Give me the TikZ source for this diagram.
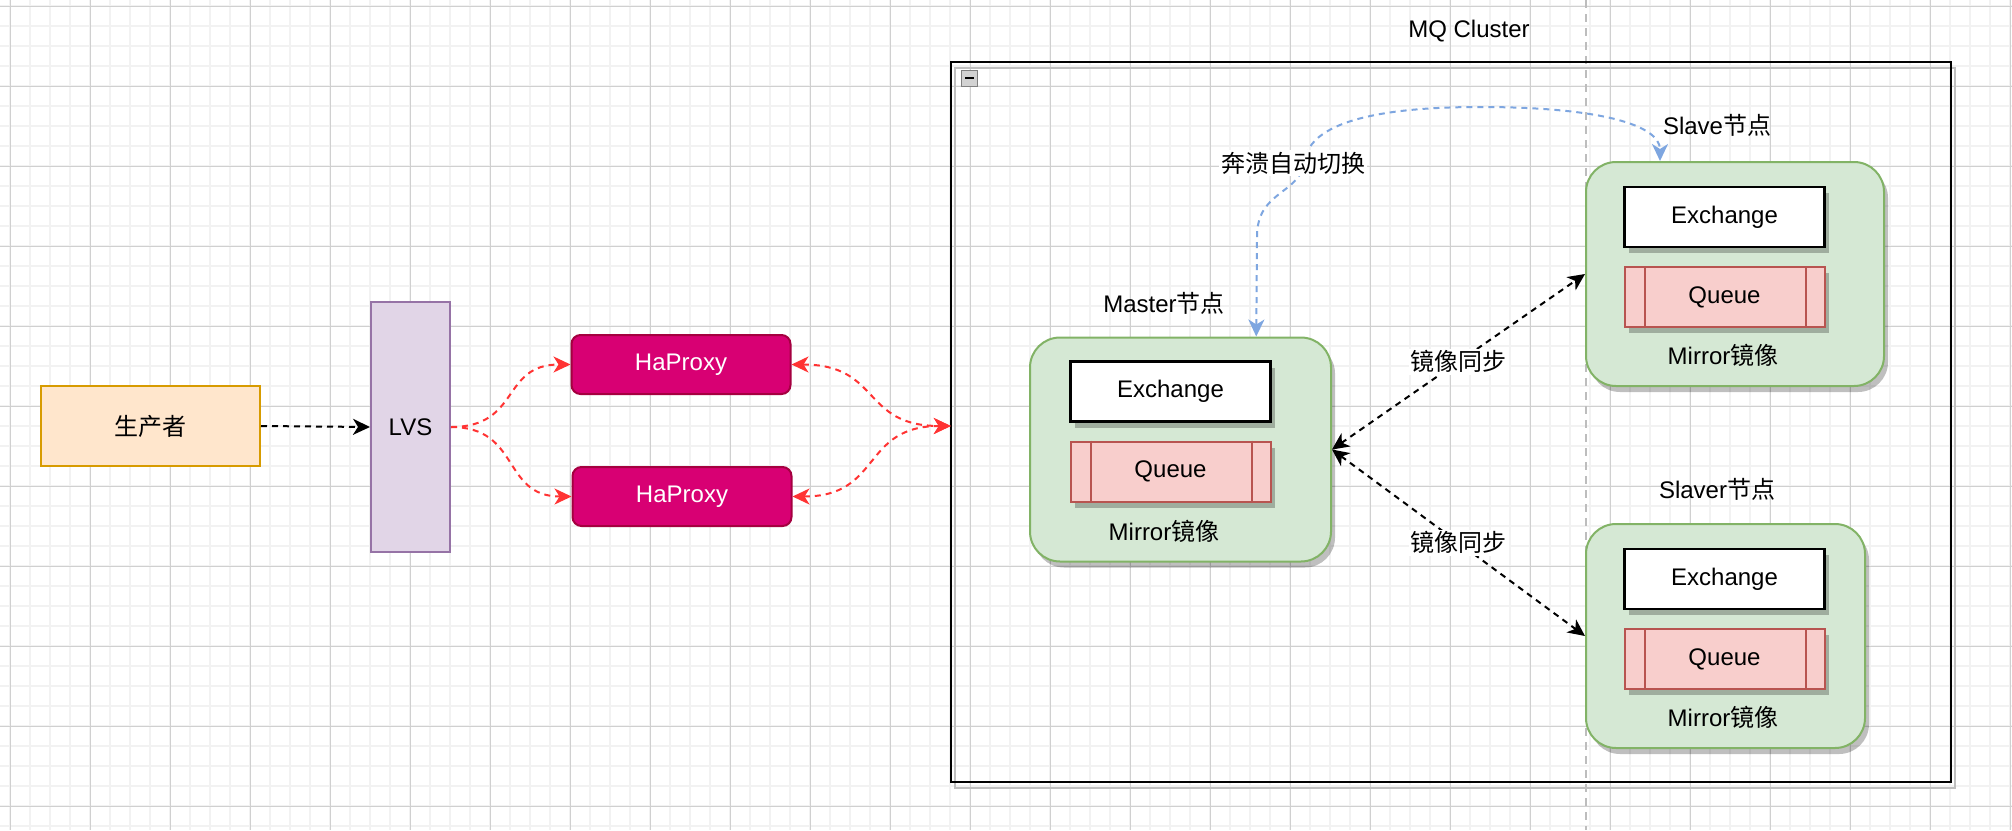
\documentclass[tikz,border=0pt]{standalone}
\usepackage{fontspec}
\setmainfont{Liberation Sans}
\newfontfamily\cjk{Noto Sans CJK SC}
\usetikzlibrary{arrows.meta,shadows,calc}
\definecolor{gridminor}{HTML}{F2F2F2}
\definecolor{gridmajor}{HTML}{D0D0D0}
\definecolor{prodfill}{HTML}{FFE6CC}
\definecolor{prodline}{HTML}{D79B00}
\definecolor{lvsfill}{HTML}{E1D5E7}
\definecolor{lvsline}{HTML}{9673A6}
\definecolor{hapfill}{HTML}{D80073}
\definecolor{hapline}{HTML}{A50040}
\definecolor{nodefill}{HTML}{D5E8D4}
\definecolor{nodeline}{HTML}{82B366}
\definecolor{qfill}{HTML}{F8CECC}
\definecolor{qline}{HTML}{B85450}
\definecolor{redarrow}{HTML}{FF3333}
\definecolor{bluearrow}{HTML}{7EA6E0}
\definecolor{guide}{HTML}{BDBDBD}
\definecolor{clshadow}{HTML}{BFBFBF}
\begin{document}
\begin{tikzpicture}[x=1pt,y=-1pt,
  txt/.style={font=\fontsize{24}{28}\selectfont, inner sep=0pt, text=black},
  sh/.style={drop shadow={shadow xshift=4pt,shadow yshift=-6pt,opacity=0.25,fill=black}},
  prodbox/.style={txt, draw=prodline, fill=prodfill, line width=2pt, minimum width=219pt, minimum height=80pt},
  lvsbox/.style={txt, draw=lvsline, fill=lvsfill, line width=2pt, minimum width=79pt, minimum height=250pt},
  hapbox/.style={txt, text=white, draw=hapline, fill=hapfill, line width=2pt, rounded corners=9pt, minimum width=219pt, minimum height=59pt},
  mqnode/.style={sh, draw=nodeline, fill=nodefill, line width=2pt, rounded corners=30pt, minimum height=224pt},
  exbox/.style={txt, sh, draw=black, fill=white, line width=2.2pt, minimum width=200pt, minimum height=60pt},
  qbox/.style={txt, sh, draw=qline, fill=qfill, line width=2pt, minimum width=200pt, minimum height=60pt},
  qbar/.style={draw=qline, line width=2pt},
  blkarr/.style={draw=black, line width=2pt, dash pattern=on 6pt off 5pt, -{Stealth[length=17pt,width=16pt,inset=5pt]}},
  blkdbl/.style={draw=black, line width=2pt, dash pattern=on 6pt off 5pt, {Stealth[length=17pt,width=16pt,inset=5pt]}-{Stealth[length=17pt,width=16pt,inset=5pt]}},
  redarr/.style={draw=redarrow, line width=2pt, dash pattern=on 6pt off 5pt, -{Stealth[length=17pt,width=16pt,inset=5pt]}},
  reddbl/.style={draw=redarrow, line width=2pt, dash pattern=on 6pt off 5pt, {Stealth[length=17pt,width=16pt,inset=5pt]}-{Stealth[length=17pt,width=16pt,inset=5pt]}},
  bluedbl/.style={draw=bluearrow, line width=2pt, dash pattern=on 6pt off 5pt, {Stealth[length=17pt,width=16pt,inset=5pt]}-{Stealth[length=17pt,width=16pt,inset=5pt]}},
  edgelabel/.style={txt, fill=white, inner sep=2pt}
]
\useasboundingbox (0,0) rectangle (2012,830);
\fill[white] (0,0) rectangle (2012,830);
% grid
\foreach \x in {10,30,...,2010} \draw[gridminor, line width=1.5pt] (\x,0) -- (\x,830);
\foreach \y in {6,26,...,826} \draw[gridminor, line width=1.5pt] (0,\y) -- (2012,\y);
\foreach \x in {10,90,...,2010} \draw[gridmajor, line width=1pt] (\x,0) -- (\x,830);
\foreach \y in {6,86,...,806} \draw[gridmajor, line width=1pt] (0,\y) -- (2012,\y);
% guide line
\draw[guide, line width=1.5pt, dash pattern=on 8pt off 6pt] (1586,0) -- (1586,830);

% cluster container
\node[minimum width=1000pt, minimum height=720pt, inner sep=0pt] (cluster) at (1451,422) {};
\draw[clshadow, line width=2.5pt] ($(cluster.north west)+(4,6)$) rectangle ($(cluster.south east)+(4,6)$);
\draw[black, line width=2.5pt] (cluster.north west) rectangle (cluster.south east);
\node[txt] (mqlabel) at (1469,31) {MQ Cluster};
\node[draw=gray, fill=gray!35, line width=1pt, minimum size=16pt, inner sep=0pt] (collapse) at (969.5,78) {};
\draw[black, line width=2pt] ($(collapse.west)+(4,0)$) -- ($(collapse.east)+(-4,0)$);

% left side
\node[prodbox] (prod) at (150.5,426) {{\cjk 生产者}};
\node[lvsbox] (lvs) at (410.5,427) {LVS};
\node[hapbox] (hap1) at (681,364.5) {HaProxy};
\node[hapbox] (hap2) at (682,496.5) {HaProxy};

% MQ nodes
\node[mqnode, minimum width=301pt] (master) at (1180.5,449.5) {};
\node[mqnode, minimum width=298pt] (slave) at (1735,274) {};
\node[mqnode, minimum width=279pt] (slaver) at (1725.5,636) {};

\node[exbox] (mex) at (1170.5,391.5) {Exchange};
\node[qbox] (mq) at (1170.5,471.5) {Queue};
\node[txt] (mmir) at (1164,531) {Mirror{\cjk 镜像}};

\node[exbox] (sex) at (1724.5,217) {Exchange};
\node[qbox] (sq) at (1724.5,297) {Queue};
\node[txt] (smir) at (1723,355) {Mirror{\cjk 镜像}};

\node[exbox] (lex) at (1724.5,579) {Exchange};
\node[qbox] (lq) at (1724.5,659) {Queue};
\node[txt] (lmir) at (1723,717) {Mirror{\cjk 镜像}};

\foreach \q in {mq,sq,lq} {
  \draw[qbar] ($(\q.north west)+(21,0)$) -- ($(\q.south west)+(21,0)$);
  \draw[qbar] ($(\q.north east)+(-20,0)$) -- ($(\q.south east)+(-20,0)$);
}

\node[txt] (mlabel) at (1164,303) {Master{\cjk 节点}};
\node[txt] (slabel) at (1717,125) {Slave{\cjk 节点}};
\node[txt] (llabel) at (1717,489) {Slaver{\cjk 节点}};

% connectors
\draw[blkarr] (prod.east) -- (lvs.west);
\draw[redarr] (lvs.east) .. controls +(70,0) and +(-70,0) .. (hap1.west);
\draw[redarr] (lvs.east) .. controls +(70,0) and +(-70,0) .. (hap2.west);
\coordinate (cin) at ($(cluster.west)+(0,4)$);
\draw[reddbl] (hap1.east) .. controls +(90,0) and +(-90,0) .. (cin);
\draw[reddbl] (hap2.east) .. controls +(90,0) and +(-90,0) .. (cin);

\draw[blkdbl] (master.east) -- node[edgelabel] (sync1) {{\cjk 镜像同步}} (slave.west);
\draw[blkdbl] (master.east) -- node[edgelabel] (sync2) {{\cjk 镜像同步}} (slaver.west);

\coordinate (m75) at ($(master.north west)!0.75!(master.north east)$);
\coordinate (s25) at ($(slave.north west)!0.25!(slave.north east)$);
\draw[bluedbl] (m75) -- (1257,235) .. controls (1258,190) and (1300,195) .. (1305,160)
  .. controls (1312,112) and (1420,107) .. (1480,107)
  .. controls (1600,107) and (1660,125) .. (s25);
\node[edgelabel] (failover) at (1293,163) {{\cjk 奔溃自动切换}};
\end{tikzpicture}
\end{document}
